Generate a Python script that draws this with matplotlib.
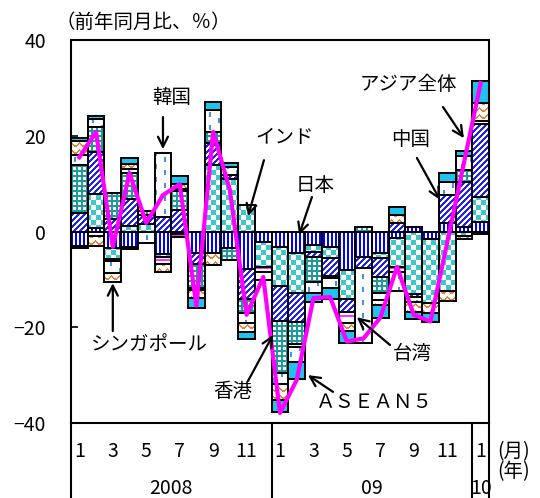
import numpy as np
import matplotlib
matplotlib.use("Agg")
import matplotlib.pyplot as plt
from matplotlib.path import Path
from matplotlib.colors import to_rgba

plt.rcParams['font.family'] = ['Noto Sans CJK JP', 'DejaVu Sans']

# ---- data: contributions to the year-on-year change (percentage points) ----
month_labels = ["1", "", "3", "", "5", "", "7", "", "9", "", "11", "",
                "1", "", "3", "", "5", "", "7", "", "9", "", "11", "", "1"]
year_labels = ["2008", "09", "10"]

japan     = [-3.1, 0.8, -3.5, -3.2, 0.0, -4.6, -0.6, -4.4, -4.4, -3.5, -7.9, -2.1,
             -3.3, -4.4, -2.8, -3.2, -8.0, -5.4, -4.4, -1.3, 0.9, -1.5, 1.8, 1.0, 2.0]
india     = [0.0, 7.1, -2.2, 1.2, 1.5, -0.8, 0.0, 0.0, 13.9, 10.9, 5.5, -5.4,
             -8.0, -8.4, -1.5, -2.3, -6.2, 0.0, -1.2, -6.2, -13.0, -13.5, -12.5, -1.0, 5.2]
china     = [3.8, 8.8, 2.7, 5.6, 2.0, 3.0, 4.4, -2.3, 4.6, 0.8, -6.2, 0.0,
             -7.3, -6.0, -1.0, -3.8, -2.6, -2.3, -3.8, 1.8, -0.6, 0.0, 5.8, 9.4, 15.3]
hongkong  = [10.0, 5.2, 5.4, 5.5, 0.8, 0.0, 4.0, -5.0, 2.3, -2.5, -2.9, 0.0,
             -10.9, -4.8, -5.3, -0.5, 0.0, 1.0, -3.5, 0.0, 0.0, 0.0, 0.0, 2.5, -0.5]
taiwan    = [-0.4, -1.0, -0.5, -0.4, 0.0, -1.3, -0.6, 0.0, 0.0, 0.0, 0.0, -1.0,
             0.0, -0.6, 0.0, 0.0, -2.3, 0.0, 0.0, -1.0, 0.0, 0.0, 0.0, 0.0, 0.5]
korea     = [2.1, 1.5, -2.4, 0.8, -2.5, 13.4, 0.5, -0.6, 4.6, 1.8, -2.1, -1.7,
             -2.3, -3.1, -2.3, -2.0, 0.0, -15.6, -1.5, -4.0, -1.2, 0.0, 2.7, 2.9, 0.0]
singapore = [3.1, -2.1, -2.0, 1.0, 0.0, -1.8, 1.0, -1.5, -2.7, 0.0, -1.9, 0.0,
             -3.5, 0.0, 0.0, 0.0, -1.7, 0.0, -1.0, 1.6, -2.0, -2.0, -2.0, -0.5, 3.8]
asean5    = [0.6, 0.7, 0.0, 1.3, 0.0, 0.0, 1.7, -2.1, 1.7, 0.8, -1.5, 0.0,
             -2.3, -3.5, -1.8, -2.4, -2.5, 0.0, -2.7, 1.7, -1.5, -1.8, 1.9, 1.0, 4.6]
asia_total = [15.5, 20.8, -3.2, 12.2, 1.8, 7.6, 9.9, -15.5, 20.8, 8.7, -17.4, -9.5,
              -37.9, -31.0, -13.9, -13.7, -23.0, -22.3, -18.0, -7.4, -17.4, -18.8,
              -2.3, 14.3, 31.0]

series = [japan, india, china, hongkong, taiwan, korea, singapore, asean5]
patterns = ["stripes", "checker", "diag", "grid", "lines", "dashes", "wavy", "solid"]

# ---- figure / axes geometry (pixels) ----
W, H = 540, 498
L, R, T, B = 71, 489, 40, 423
fig = plt.figure(figsize=(W / 100, H / 100), dpi=100)
ax = fig.add_axes([L / W, 1 - B / H, (R - L) / W, (B - T) / H])
XLIM, YLIM = (-0.5, 24.5), (-40, 40)

# ---- fill patterns rendered at screen resolution ----
pw, ph = R - L, B - T
Yp, Xp = np.mgrid[0:ph, 0:pw]


def make_pattern(mask, fg, bg="white"):
    img = np.empty((ph, pw, 4))
    img[:] = to_rgba(bg)
    img[mask] = to_rgba(fg)
    return img


col = Xp // 9
tri = np.abs((Xp % 8) - 4) * 0.75
pattern_imgs = {
    "stripes": make_pattern((Xp % 4) < 2, "#0000ff"),
    "checker": make_pattern(((Xp // 5 + Yp // 5) % 2) == 0, "#3cc8c8"),
    "diag": make_pattern(((Xp + Yp) % 6) < 3, "#2222ee"),
    "grid": make_pattern(((Xp % 5) < 2) | ((Yp % 5) < 2), "#1f9a9a"),
    "lines": make_pattern((Yp % 8 == 3) | (Yp % 8 == 4), "#ff33ff"),
    "dashes": make_pattern(np.isin(Xp % 9, [3, 4]) & (((Yp + 6 * (col % 2)) % 13) < 5),
                           "#4a90e2"),
    "wavy": make_pattern(((Yp + tri) % 7) < 1.8, "#f08030"),
    "solid": make_pattern(np.ones_like(Xp, dtype=bool), "#1ec4f0"),
}


def rect_path(rects):
    verts, codes = [], []
    for x0, y0, x1, y1 in rects:
        verts += [(x0, y0), (x1, y0), (x1, y1), (x0, y1), (x0, y0)]
        codes += [Path.MOVETO, Path.LINETO, Path.LINETO, Path.LINETO, Path.CLOSEPOLY]
    return Path(verts, codes)


x = np.arange(len(asia_total))
pos_base = np.zeros(len(x))
neg_base = np.zeros(len(x))
bw = 1.0
for vals, pat in zip(series, patterns):
    v = np.asarray(vals, dtype=float)
    bottom = np.where(v >= 0, pos_base, neg_base)
    nz = v != 0
    bars = ax.bar(x[nz], v[nz], bottom=bottom[nz], width=bw, facecolor="none",
                  edgecolor="black", linewidth=1.4, zorder=3)
    rects = []
    for r in bars.patches:
        x0, y0 = r.get_x(), r.get_y()
        rects.append((x0, y0, x0 + r.get_width(), y0 + r.get_height()))
    im = ax.imshow(pattern_imgs[pat], extent=(XLIM[0], XLIM[1], YLIM[0], YLIM[1]),
                   origin="upper", aspect="auto", interpolation="nearest", zorder=2)
    im.set_clip_path(rect_path(rects), ax.transData)
    pos_base += np.clip(v, 0, None)
    neg_base += np.clip(v, None, 0)

ax.plot(x, asia_total, color="#ff00ff", lw=3.0, zorder=4, solid_joinstyle="round")

ax.set_xlim(*XLIM)
ax.set_ylim(*YLIM)
ax.set_xticks([])
ax.set_yticks([-40, -20, 0, 20, 40])
ax.set_yticklabels(["−40", "−20", "0", "20", "40"])
ax.tick_params(axis="y", direction="in", length=5, width=1.2, pad=18, labelsize=14)
for sp in ax.spines.values():
    sp.set_linewidth(1.5)
    sp.set_zorder(5)

# ---- month / year table under the plot ----
tr = ax.get_xaxis_transform()
for xv in (-0.5, 11.5, 23.5, 24.5):
    ax.plot([xv, xv], [0, -0.2], transform=tr, color="black", lw=1.5,
            clip_on=False, zorder=5)
for i, lab in enumerate(month_labels):
    if lab:
        ax.text(i, -0.0757, lab, transform=tr, ha="center", va="center", fontsize=14)
for xv, lab in zip((5.5, 17.5, 24.0), year_labels):
    ax.text(xv, -0.170, lab, transform=tr, ha="center", va="center", fontsize=14)
fig.text(497 / W, 1 - 452 / H, "(月)", ha="left", va="center", fontsize=14)
fig.text(497 / W, 1 - 472 / H, "(年)", ha="left", va="center", fontsize=14)
fig.text(143 / W, 1 - 22 / H, "（前年同月比、％）", ha="center", va="center", fontsize=14)

# ---- labels with arrows ----
labels = [
    ("韓国", (5.5, 27.9), (5.0, 23.9), (5.0, 17.2)),
    ("インド", (12.3, 19.7), (11.04, 14.9), (10.09, 3.2)),
    ("日本", (14.09, 9.7), (13.91, 7.2), (13.14, -0.7)),
    ("中国", (19.83, 19.3), (20.19, 15.35), (21.57, 6.6)),
    ("アジア全体", (19.66, 30.8), (21.75, 26.0), (23.0, 19.5)),
    ("シンガポール", (4.22, -23.5), (2.0, -20.8), (2.0, -10.8)),
    ("香港", (9.19, -33.5), (10.09, -31.2), (11.58, -21.6)),
    ("台湾", (19.89, -25.4), (18.58, -23.7), (16.6, -17.9)),
    ("ＡＳＥＡＮ５", (17.62, -35.8), (15.17, -33.5), (13.67, -30.0)),
]
for text, tpos, start, tip in labels:
    ax.text(*tpos, text, ha="center", va="center", fontsize=14, zorder=6)
    ax.annotate("", xy=tip, xytext=start,
                arrowprops=dict(arrowstyle="->", color="black", lw=1.6,
                                mutation_scale=18, shrinkA=0, shrinkB=0),
                zorder=6)

fig.savefig("out.png", dpi=100)
